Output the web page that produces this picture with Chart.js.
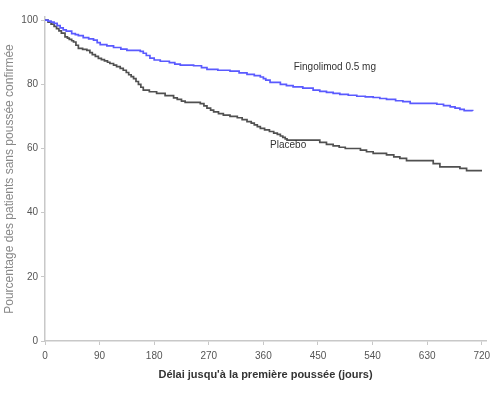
<!DOCTYPE html>
<html>
<head>
<meta charset="utf-8">
<script src="https://cdn.jsdelivr.net/npm/chart.js@4.4.1/dist/chart.umd.min.js"></script>
<style>
  html, body { margin: 0; padding: 0; background: #fff; }
  #wrap { width: 500px; height: 393px; }
</style>
</head>
<body>
<div id="wrap"><canvas id="my_canvas" width="500" height="393"></canvas></div>
<script>
// Kaplan-Meier data (days, % without relapse)
var fingoDays = [0, 5, 10, 15, 20, 25, 30, 35, 44, 50, 55, 63, 72, 80, 86, 91, 102, 113, 125, 135, 157, 162, 167, 173, 180, 190, 205,
    214, 223, 245, 258, 267, 285, 305, 320, 333, 345, 355, 360, 364, 371, 388, 398, 409, 425, 442, 453, 464, 475, 486, 500, 514, 528, 541, 552, 563, 578, 590,
    602, 646, 657, 668, 676, 684, 691, 705];
var fingoVals = [100, 99.7, 99.4, 99.0, 98.3, 97.6, 97.0, 96.6, 95.8, 95.5, 95.2, 94.6, 94.2, 93.8, 93.0, 92.4, 92.0, 91.5, 91.0, 90.6, 90.3, 89.7, 89.0, 88.2, 87.6, 87.2, 86.8,
    86.3, 86.0, 85.8, 85.2, 84.7, 84.4, 84.1, 83.6, 83.1, 82.7, 82.3, 81.8, 81.3, 80.6, 80.0, 79.6, 79.2, 78.8, 78.2, 77.8, 77.5, 77.2, 76.9, 76.6, 76.3, 76.1, 75.9, 75.6, 75.3, 74.9, 74.6,
    74.1, 73.8, 73.4, 73.0, 72.6, 72.2, 71.8, 71.7];

var placeboDays = [0, 5, 10, 15, 19, 23, 27, 33, 37, 40, 44, 47, 51, 55, 62, 69, 74, 78, 83, 88, 93, 98, 103, 107, 113, 118, 124, 129, 134, 138, 142, 146, 150, 154, 158, 162, 172,
    184, 198, 212, 218, 225, 231, 256, 262, 267, 273, 278, 286, 294, 305, 317, 325, 333, 340, 345, 350, 355, 362, 370, 377, 383, 388, 392, 396, 399, 432, 453, 464, 475, 485, 495,
    520, 530, 541, 563, 575, 585, 596, 629, 640, 651, 684, 695, 719];
var placeboVals = [100, 99.4, 98.8, 98.1, 97.4, 96.7, 96.0, 94.8, 94.4, 94.0, 93.6, 93.2, 92.2, 91.2, 90.9, 90.6, 89.9, 89.3, 88.7, 88.1, 87.7, 87.3, 86.9, 86.5, 86.0, 85.5, 85.0, 84.4, 83.7, 83.0, 82.4, 81.8, 80.9, 80.0, 79.1, 78.2, 77.7,
    77.2, 76.5, 75.8, 75.3, 74.8, 74.4, 74.0, 73.3, 72.6, 72.0, 71.4, 70.9, 70.4, 70.0, 69.6, 69.0, 68.4, 67.9, 67.4, 66.8, 66.3, 65.8, 65.3, 64.8, 64.4, 63.9, 63.5, 63.0, 62.6, 62.6, 61.9, 61.3, 60.8, 60.4, 60.0,
    59.5, 59.0, 58.5, 58.0, 57.4, 56.9, 56.2, 56.2, 55.3, 54.3, 53.8, 53.1, 52.8];

var xTicks = [0, 90, 180, 270, 360, 450, 540, 630, 720];
var yTicks = [0, 20, 40, 60, 80, 100];

var seriesNames = ['Fingolimod 0.5 mg', 'Placebo'];
// where the curve labels sit, in data units (day, %)
var labelAnchors = [[410, 85.4], [371, 61.0]];

function toPoints(days, vals) {
    var pts = [];
    for (var i = 0; i < days.length; i++) {
        pts.push({x: days[i], y: vals[i]});
    }
    return pts;
}

var curveLabels = {
    id: 'curveLabels',
    afterDatasetsDraw: function(chart) {
        var ctx = chart.ctx;
        var xs = chart.scales.x, ys = chart.scales.y;
        ctx.save();
        ctx.font = '10px "Liberation Sans", Arial, sans-serif';
        ctx.fillStyle = '#333';
        ctx.textAlign = 'left';
        ctx.textBaseline = 'middle';
        for (var i = 0; i < seriesNames.length; i++) {
            ctx.fillText(seriesNames[i], xs.getPixelForValue(labelAnchors[i][0]), ys.getPixelForValue(labelAnchors[i][1]));
        }
        ctx.restore();
    }
};

var axisGrey = '#c8c8c8';
var tickFont = {family: '"Liberation Sans", Arial, sans-serif', size: 10};

var ctx = document.getElementById('my_canvas');
var km = new Chart(ctx, {
    type: 'line',
    data: {
        datasets: [
            {
                label: seriesNames[0],
                data: toPoints(fingoDays, fingoVals),
                borderColor: '#5a5aff',
                borderWidth: 1.7,
                stepped: true,
                pointRadius: 0,
                fill: false
            },
            {
                label: seriesNames[1],
                data: toPoints(placeboDays, placeboVals),
                borderColor: '#505050',
                borderWidth: 1.7,
                stepped: true,
                pointRadius: 0,
                fill: false
            }
        ]
    },
    options: {
        responsive: false,
        animation: false,
        layout: {padding: {top: 17, right: 14, left: 0, bottom: 7}},
        plugins: {legend: {display: false}, tooltip: {enabled: false}},
        scales: {
            x: {
                type: 'linear',
                min: 0,
                max: 727,
                afterBuildTicks: function(scale) {
                    scale.ticks = xTicks.map(function(v) { return {value: v}; });
                },
                afterFit: function(scale) { scale.height = 45; },
                grid: {drawOnChartArea: false, tickLength: 4, color: axisGrey},
                border: {color: axisGrey, width: 1.5},
                ticks: {font: tickFont, color: '#555', maxRotation: 0, padding: 5},
                title: {
                    display: true,
                    text: 'Délai jusqu\'à la première poussée (jours)',
                    font: {family: '"Liberation Sans", Arial, sans-serif', size: 11, weight: 'bold'},
                    color: '#333',
                    padding: {top: 4}
                }
            },
            y: {
                min: 0,
                max: 101,
                afterBuildTicks: function(scale) {
                    scale.ticks = yTicks.map(function(v) { return {value: v}; });
                },
                afterFit: function(scale) { scale.width = 45; },
                grid: {drawOnChartArea: false, tickLength: 4, color: axisGrey},
                border: {color: axisGrey, width: 1.5},
                ticks: {font: tickFont, color: '#555', padding: 3},
                title: {
                    display: true,
                    text: 'Pourcentage des patients sans poussée confirmée',
                    font: {family: '"Liberation Sans", Arial, sans-serif', size: 12},
                    color: '#888',
                    padding: {top: 2, bottom: 0}
                }
            }
        }
    },
    plugins: [curveLabels]
});
</script>
</body>
</html>
